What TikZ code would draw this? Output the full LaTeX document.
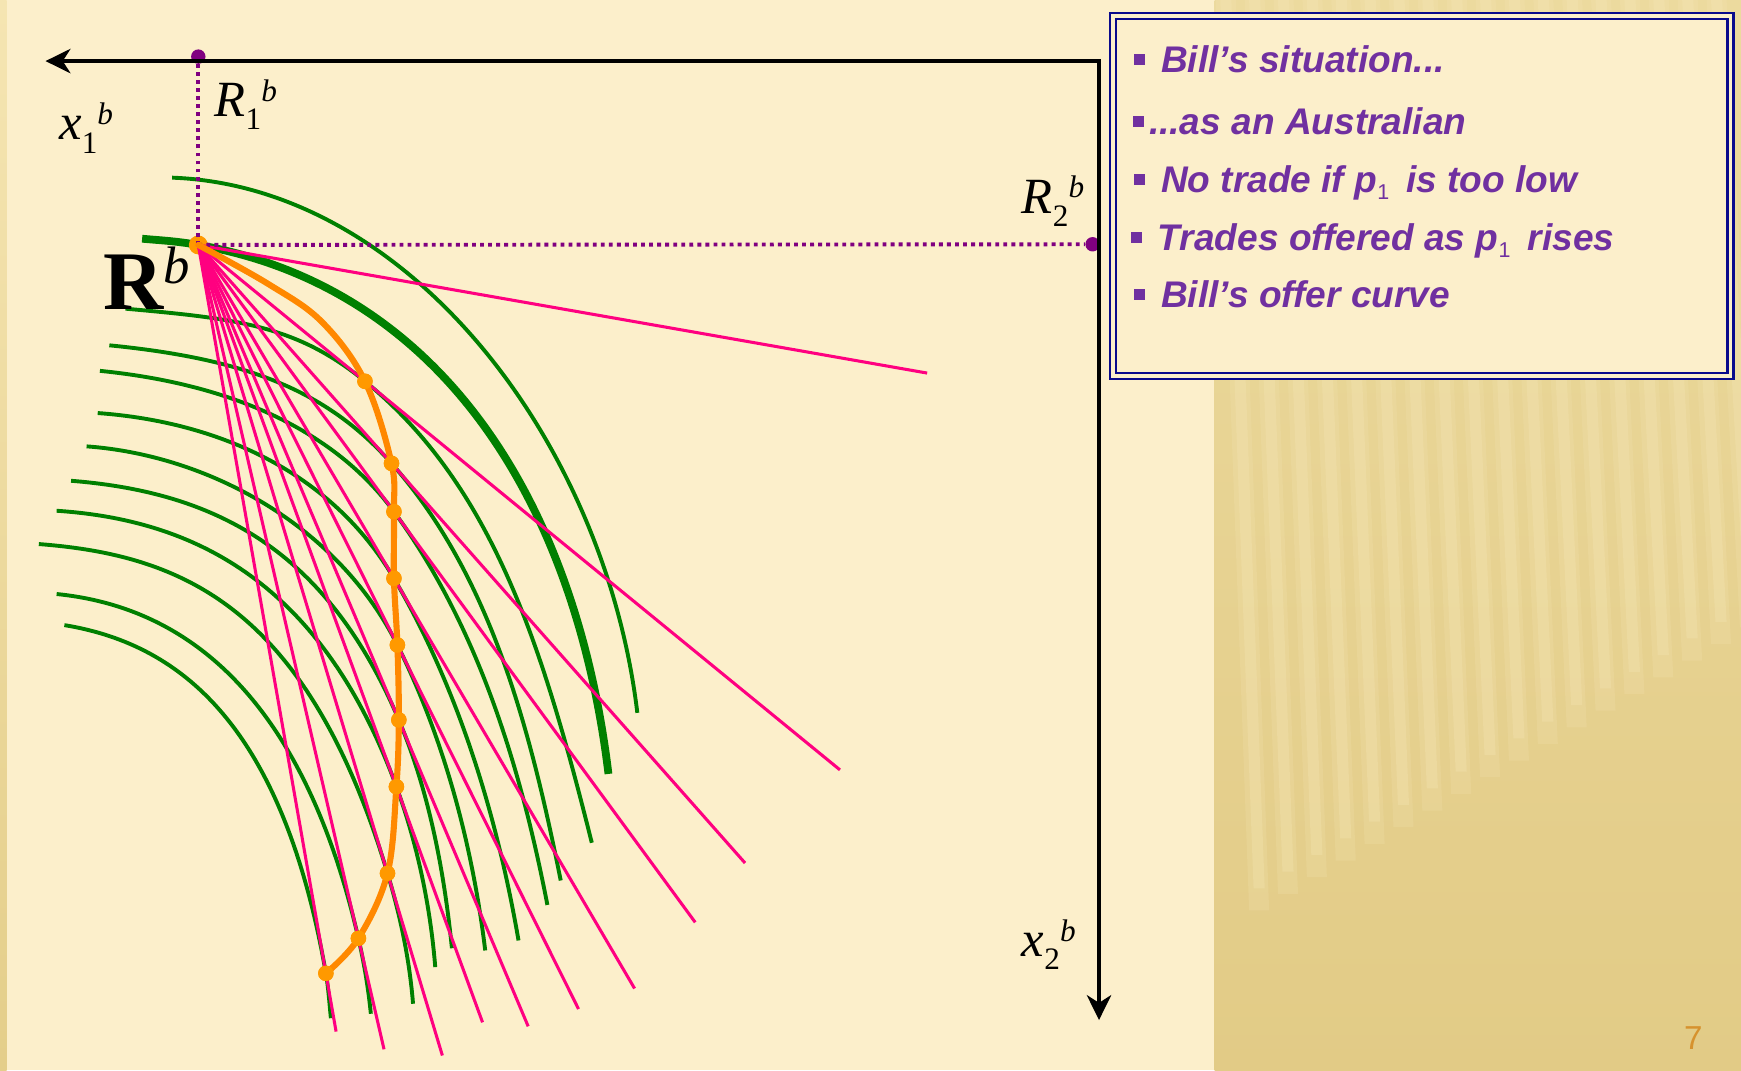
\documentclass[tikz,border=0pt]{standalone}
\usepackage{fontspec}
\setmainfont{Liberation Serif}
\newfontfamily\bulletfont{Liberation Sans}
\usetikzlibrary{calc,positioning,arrows.meta}
\definecolor{bgcream}{RGB}{252,239,203}
\definecolor{goldtop}{RGB}{236,218,158}
\definecolor{goldbot}{RGB}{226,203,134}
\definecolor{goldlight}{RGB}{246,231,183}
\definecolor{edgetop}{RGB}{245,229,178}
\definecolor{edgebot}{RGB}{228,206,138}
\definecolor{icgreen}{RGB}{0,128,0}
\definecolor{budgetpink}{RGB}{255,0,128}
\definecolor{offerorange}{RGB}{255,136,0}
\definecolor{dotorange}{RGB}{255,153,0}
\definecolor{endowpurple}{RGB}{128,0,128}
\definecolor{textpurple}{RGB}{112,48,160}
\definecolor{boxnavy}{RGB}{10,10,140}
\definecolor{pageorange}{RGB}{214,146,46}
\newcommand{\axlbl}[3]{\textit{#1}\raisebox{-2.4mm}{\fontsize{16pt}{16pt}\selectfont #2}\raisebox{2.8mm}{\fontsize{16pt}{16pt}\selectfont\textit{#3}}}
\newcommand{\sqb}{\rule[1.4mm]{1.9mm}{1.9mm}}
\newcommand{\pone}{\raisebox{-1.3mm}{\fontsize{11pt}{11pt}\selectfont\mdseries\upshape 1}}
\tikzset{
  icurve/.style={draw=icgreen, line width=0.7mm},
  icthick/.style={draw=icgreen, line width=1.4mm},
  budget/.style={draw=budgetpink, line width=0.55mm},
  offer/.style={draw=offerorange, line width=1.1mm, line cap=round, line join=round},
  odot/.style={circle, fill=dotorange, inner sep=0pt, minimum size=2.8mm},
  pdot/.style={circle, fill=endowpurple, inner sep=0pt, minimum size=2.6mm},
  guide/.style={draw=endowpurple, line width=0.7mm, dash pattern=on 0.7mm off 0.75mm},
  axisline/.style={line width=0.58mm, {Stealth[length=4.5mm,width=4.4mm,inset=1.4mm]}-{Stealth[length=4.5mm,width=4.4mm,inset=1.4mm]}},
  lbl/.style={inner sep=0pt, anchor=base west, font=\fontsize{26pt}{26pt}\selectfont},
  bullet/.style={inner sep=0pt, anchor=base west, text=textpurple, font=\bulletfont\bfseries\itshape\fontsize{19pt}{19pt}\selectfont}
}
\begin{document}
\begin{tikzpicture}[x=0.2mm,y=-0.2mm]
  \useasboundingbox (0,0) rectangle (1568,964);
  \fill[bgcream] (0,0) rectangle (1568,964);
  \shade[top color=edgetop, bottom color=edgebot] (0,0) rectangle (6,964);
  \shade[top color=goldtop, bottom color=goldbot] (1094,0) rectangle (1568,964);
  \foreach \s in {0,...,17}{
    \fill[goldlight, opacity=0.2] ({1095+\s*26},0) -- ({1113+\s*26},0) -- ({1143+\s*26},{820-\s*15}) -- ({1125+\s*26},{820-\s*15}) -- cycle;
    \fill[goldlight, opacity=0.3] ({1099+\s*26},0) -- ({1109+\s*26},0) -- ({1139+\s*26},{800-\s*15}) -- ({1129+\s*26},{800-\s*15}) -- cycle;
  }

  \coordinate (O) at (989.8,55);
  \coordinate (xtip) at (41,55);
  \coordinate (ytip) at (989.8,918.7);
  \coordinate (R) at (178.6,220.6);
  \coordinate (Lzero) at (835,336);

  \node[odot] (d1) at (328.7,343.4) {};
  \node[odot] (d2) at (352.6,417.3) {};
  \node[odot] (d3) at (354.8,460.8) {};
  \node[odot] (d4) at (354.8,520.9) {};
  \node[odot] (d5) at (357.9,580.9) {};
  \node[odot] (d6) at (359.2,648.4) {};
  \node[odot] (d7) at (357.0,708.5) {};
  \node[odot] (d8) at (349.0,786.5) {};
  \node[odot] (d9) at (322.8,845.1) {};
  \node[odot] (d10) at (293.5,876.6) {};

  \draw[icurve] (155,160) .. controls (370,168) and (545,400) .. (574,642);
  \draw[icthick] (128,215) .. controls (145,216.5) and ($(R)!-4mm!(Lzero)$) .. (R)
    .. controls ($(R)!44mm!(Lzero)$) and (518,448.8) .. (548,697);
  \foreach \sx/\sy/\px/\py/\k/\ain/\bout/\qx/\qy/\ex/\ey in {
      113/278/213/287/1/16/30/489/584/533/759,
      98.5/311/218.5/323/2/18/26/475.6/646/505/793,
      90/334/210/346/3/18/24/466.4/677.8/493/815,
      88/372/198/380/4/22/22/446.6/728.8/467/847,
      78/402/188/410/5/24/18/425/756.7/437/856,
      64/433/190/443/6/34/14/400/784.4/407/854,
      51/460/171/468/7/40/11/387.6/816.2/392/871,
      35/490/165/500/8/50/8/368.8/864.1/372/904,
      51/535/171/547/9/44/4.6/331.7/890.1/334/913,
      58/563/168/581/10/44/2.6/296.7/904.1/298/917}{
    \draw[icurve] (\sx,\sy) .. controls (\px,\py) and ($(d\k)!\ain mm!(R)$) .. (d\k.center)
      .. controls ($(d\k)!-\bout mm!(R)$) and (\qx,\qy) .. (\ex,\ey);
  }

  \node[circle, fill=dotorange, inner sep=0pt, minimum size=3.4mm] (Rdot) at (R) {};
  \draw[budget] (R) -- (Lzero);
  \foreach \k/\f in {1/3.85,2/2.83,3/2.54,4/2.23,5/1.91,6/1.645,7/1.435,8/1.29,9/1.16,10/1.08}{
    \draw[budget] (R) -- ($(R)!\f!(d\k)$);
  }

  \node[pdot] (Rone) at (178.6,51) {};
  \node[pdot] (Rtwo) at (984,220) {};
  \draw[guide] (R) -- (Rone);
  \draw[guide] (R) -- (Rtwo);
  \draw[axisline] (xtip) -- (O) -- (ytip);

  \draw[offer] plot[smooth, tension=0.6] coordinates {(R) (242,256) (290,290) (d1.center) (d2.center) (d3.center) (d4.center) (d5.center) (d6.center) (d7.center) (d8.center) (d9.center) (d10.center)};
  \foreach \k in {1,...,10}{
    \fill[dotorange] (d\k) circle[radius=1.4mm];
  }

  \node[lbl] (lblRone) at (193,105) {\axlbl{R}{1}{b}};
  \node[lbl] (lblXone) at (53,126) {\axlbl{x}{1}{b}};
  \node[lbl] (lblRtwo) at (920,192) {\axlbl{R}{2}{b}};
  \node[lbl] (lblXtwo) at (920,861.6) {\axlbl{x}{2}{b}};
  \node[inner sep=0pt, anchor=base west] (lblR) at (93,279) {\fontsize{42.7pt}{43pt}\selectfont\bfseries R\raisebox{4.8mm}{\fontsize{27pt}{27pt}\selectfont\mdseries\itshape b}};

  \node[draw=boxnavy, double=bgcream, double distance=0.66mm, line width=0.45mm, fill=bgcream, minimum width=111.25mm, minimum height=64.85mm, inner sep=0pt] (box) at (1280.4,176.6) {};
  \node[bullet] (ln1) at (1021,65.5) {\sqb\hspace{2.96mm}Bill’s situation...};
  \node[bullet] (ln2) at (1020.5,121) {\sqb\hspace{0.9mm}...as an Australian};
  \node[bullet] (ln3) at (1021,173.5) {\sqb\hspace{2.96mm}No trade if p\pone\hspace{3.1mm}is too low};
  \node[bullet] (ln4) at (1018.5,225.8) {\sqb\hspace{2.9mm}Trades offered as p\pone\hspace{3.1mm}rises};
  \node[bullet] (ln5) at (1021,276.8) {\sqb\hspace{2.96mm}Bill’s offer curve};

  \node[anchor=base, inner sep=0pt, text=pageorange, font=\bulletfont\fontsize{17pt}{17pt}\selectfont] (pagenum) at (1525,945) {7};
\end{tikzpicture}
\end{document}
